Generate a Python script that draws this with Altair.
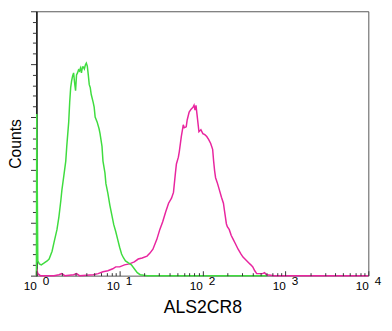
import altair as alt
import pandas as pd

# ---- data (fluorescence intensity vs counts) ----
green_x = [1.0, 1.01, 1.04, 1.085, 1.146, 1.243, 1.348, 1.423, 1.545, 1.631,
           1.769, 1.868, 1.972, 2.027, 2.140, 2.259, 2.322, 2.452, 2.519, 2.588,
           2.659, 2.733, 2.808, 2.885, 2.965, 3.046, 3.130, 3.216, 3.305, 3.396,
           3.489, 3.585, 3.684, 3.785, 3.890, 3.997, 4.107, 4.220, 4.336, 4.457,
           4.580, 4.834, 4.968, 5.105, 5.390, 5.691, 5.848, 6.174, 6.344, 6.699,
           6.883, 7.268, 7.674, 8.102, 8.555, 9.033, 9.537, 10.07, 10.63, 11.23,
           11.85, 12.86, 13.95, 15.13, 16.42, 17.81, 21.54, 592.9]
green_y = [0, 152.8, 13.9, 11.1, 10.2, 12.0, 13.9, 15.7, 23.1, 31.5,
           43.5, 55.6, 71.3, 80.6, 94.4, 108.3, 122.2, 145.4, 163.9, 177.8,
           184.3, 188.9, 191.7, 182.4, 175.0, 189.8, 191.7, 194.5, 193.5, 196.3,
           191.7, 197.2, 197.2, 195.4, 199.1, 200.9, 198.2, 189.8, 180.6, 177.8,
           171.3, 163.9, 159.3, 150.0, 145.4, 138.9, 134.3, 122.2, 108.3, 97.2,
           87.0, 77.8, 66.7, 57.4, 48.2, 41.7, 34.3, 26.9, 20.4, 16.7,
           13.9, 12.0, 10.2, 6.5, 2.8, 0.9, 0, 0]

magenta_x = [1.0, 1.01, 1.04, 1.115, 1.631, 1.868, 2.027, 2.198, 2.808, 3.046,
             3.305, 4.834, 5.539, 6.344, 7.268, 8.325, 9.033, 10.07, 11.53, 13.21,
             15.13, 16.87, 18.81, 21.54, 23.37, 25.36, 28.27, 30.67, 33.27, 36.10,
             39.16, 42.49, 44.86, 47.37, 48.67, 51.39, 52.80, 55.75, 58.88, 60.50,
             63.87, 65.63, 69.30, 73.17, 77.27, 79.39, 81.57, 83.81, 86.12, 90.94,
             96.0, 101.4, 107.0, 113.0, 119.3, 126.0, 133.0, 136.7, 140.5, 144.3,
             152.4, 160.9, 169.9, 179.4, 184.3, 189.4, 194.6, 199.9, 211.1, 222.9,
             235.3, 248.5, 269.6, 292.5, 308.8, 335.0, 363.5, 383.8, 405.3, 427.9,
             451.8, 490.2, 531.8, 561.5, 592.9, 736.8, 10000]
magenta_y = [0, 6.5, 1.9, 0, 0, 0.9, 1.9, 0, 0.9, 1.9,
             0, 0.9, 1.9, 3.7, 4.6, 6.5, 8.3, 8.3, 10.2, 11.1,
             13.0, 15.7, 16.7, 18.5, 21.3, 25.0, 34.3, 43.5, 50.9, 60.2,
             68.5, 73.2, 78.7, 97.2, 105.6, 112.0, 117.6, 131.5, 142.6, 139.8,
             140.7, 147.2, 154.6, 157.4, 159.3, 161.1, 156.5, 161.1, 152.8, 136.1,
             138.0, 134.3, 133.3, 131.5, 128.7, 125.0, 119.5, 108.3, 99.1, 92.6,
             87.0, 80.6, 74.1, 68.5, 62.0, 55.6, 49.1, 46.3, 43.5, 38.0,
             34.3, 30.6, 25.0, 20.4, 17.6, 14.8, 12.0, 10.2, 8.3, 4.6,
             1.9, 1.9, 1.9, 2.8, 0.9, 0, 0]

# ---- axis tick values ----
decades = [1, 10, 100, 1000, 10000]
minor_x = [2, 3, 4, 5, 6, 7, 8, 9,
           20, 30, 40, 50, 60, 70, 80, 90,
           200, 300, 400, 500, 600, 700, 800, 900,
           2000, 3000, 4000, 5000, 6000, 7000, 8000, 9000]
y_major = [0, 50, 100, 150, 200, 250]
y_minor = [10, 20, 30, 40, 60, 70, 80, 90, 110, 120, 130, 140,
           160, 170, 180, 190, 210, 220, 230, 240]

FONT = "Liberation Sans"
W, H = 339, 270

df_m = pd.DataFrame({"x": magenta_x, "y": magenta_y})
df_g = pd.DataFrame({"x": green_x, "y": green_y})

xscale = alt.Scale(type="log", domain=[1, 10000], nice=False)
yscale = alt.Scale(domain=[0, 250], nice=False, zero=True)

ax_x_base = alt.Axis(orient="bottom", values=decades, labelExpr="'10'",
                     labelAlign="right", labelBaseline="top",
                     labelPadding=5, labelFontSize=12, labelFont=FONT,
                     labelColor="black", ticks=False, tickSize=0, domain=False,
                     grid=False, labelFlush=False, labelOverlap=False,
                     labelBound=False, title="ALS2CR8", titleFont=FONT,
                     titleFontSize=18, titleFontWeight="normal",
                     titleColor="black", titlePadding=8)
ax_x_exp = alt.Axis(orient="bottom", values=decades,
                    labelExpr="'' + round(log(datum.value) / LN10)",
                    labelAlign="left", labelBaseline="top", labelOffset=6,
                    labelPadding=0, labelFontSize=12, labelFont=FONT,
                    labelColor="black", ticks=False, tickSize=0, domain=False,
                    grid=False, labelFlush=False, labelOverlap=False,
                    labelBound=False, title=None)
ax_y_major = alt.Axis(orient="left", values=y_major, labels=False, tickSize=6,
                      tickColor="#333333", tickWidth=1, domain=True,
                      domainColor="#111111", domainWidth=1.5, grid=False,
                      title="Counts", titleFont=FONT, titleFontSize=16,
                      titleFontWeight="normal", titleColor="black",
                      titlePadding=7)
ax_y_minor = alt.Axis(orient="left", values=y_minor, labels=False, tickSize=4,
                      tickColor="#333333", tickWidth=1, domain=False,
                      grid=False, title=None)
ax_x_minor = alt.Axis(orient="top", offset=-H, values=minor_x, labels=False,
                      tickSize=3, tickColor="#333333", tickWidth=1,
                      domain=False, grid=False, title=None, zindex=1)
ax_x_major = alt.Axis(orient="top", offset=-H, values=decades, labels=False,
                      tickSize=5, tickColor="#333333", tickWidth=1,
                      domain=False, grid=False, title=None, zindex=1)

magenta = alt.Chart(df_m).mark_line(color="#e8259f", strokeWidth=1.5).encode(
    x=alt.X("x:Q", scale=xscale, axis=ax_x_base),
    y=alt.Y("y:Q", scale=yscale, axis=ax_y_major),
)
green = alt.Chart(df_g).mark_line(color="#3fdc3f", strokeWidth=1.5).encode(
    x=alt.X("x:Q", scale=xscale, axis=ax_x_exp),
    y=alt.Y("y:Q", scale=yscale, axis=ax_y_minor),
)
ticks_minor = alt.Chart(df_g).mark_line(strokeOpacity=0).encode(
    x=alt.X("x:Q", scale=xscale, axis=ax_x_minor),
    y=alt.Y("y:Q", scale=yscale, axis=None),
)
ticks_major = alt.Chart(df_g).mark_line(strokeOpacity=0).encode(
    x=alt.X("x:Q", scale=xscale, axis=ax_x_major),
    y=alt.Y("y:Q", scale=yscale, axis=None),
)

chart = (
    alt.layer(magenta, green, ticks_minor, ticks_major)
    .resolve_axis(x="independent", y="independent")
    .properties(
        width=W, height=H,
        autosize=alt.AutoSizeParams(type="none"),
        padding={"left": 29, "top": 0, "right": 16, "bottom": 44},
        background="white",
    )
    .configure_view(stroke="#555555", strokeWidth=1)
)

chart.save("out.html", embed_options={"renderer": "svg", "actions": False})
